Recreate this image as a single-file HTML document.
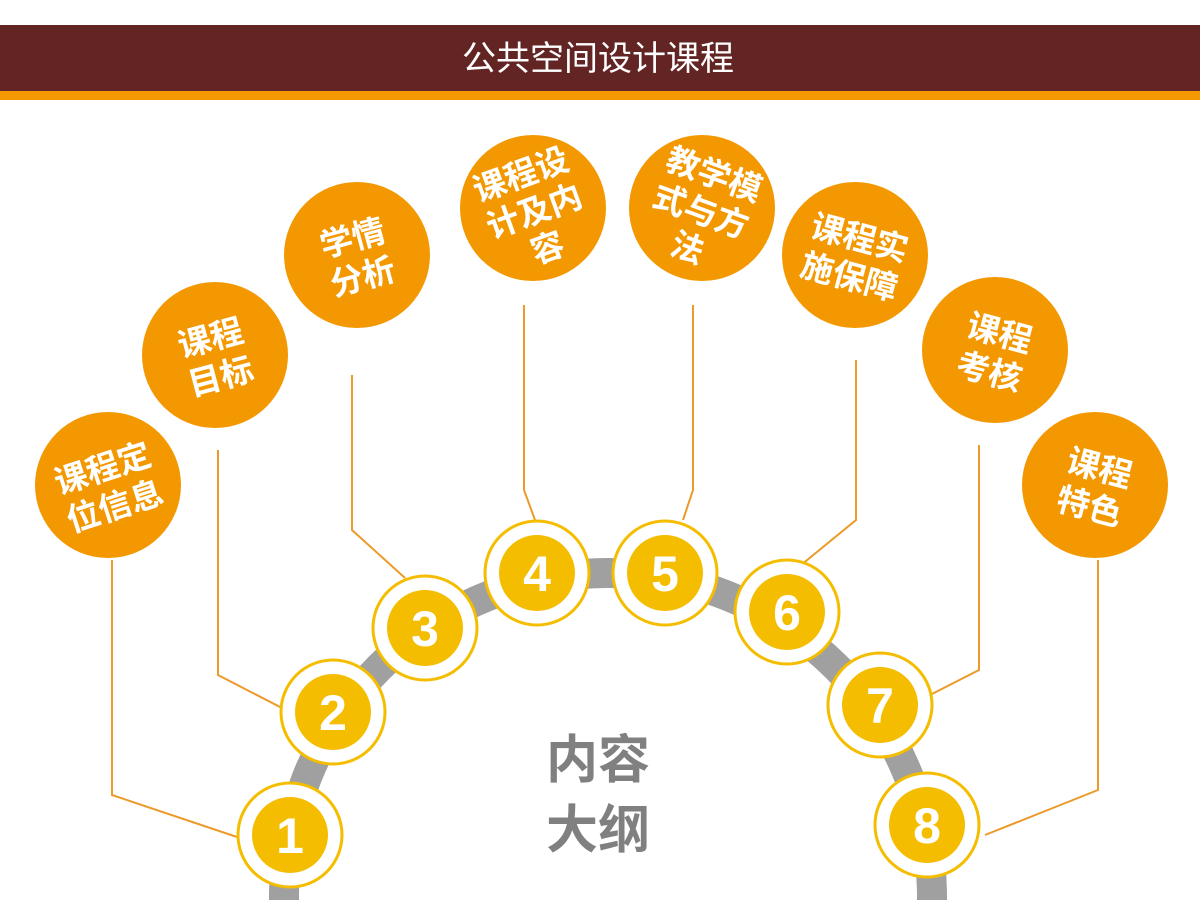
<!DOCTYPE html>
<html><head><meta charset="utf-8"><style>
html,body{margin:0;width:1200px;height:900px;overflow:hidden;background:#fff;}
svg{display:block;}
text{font-family:"Liberation Sans","Noto Sans CJK SC",sans-serif;}
</style></head><body>
<svg width="1200" height="900" xmlns="http://www.w3.org/2000/svg">
<rect x="0" y="25" width="1200" height="66" fill="#622524"/>
<rect x="0" y="91" width="1200" height="9" fill="#f39800"/>
<text x="598" y="70" font-size="34" fill="#fff" text-anchor="middle">公共空间设计课程</text>

<circle cx="608" cy="897" r="324" fill="none" stroke="#a0a0a0" stroke-width="30"/>

<g fill="none" stroke="#ec9a2a" stroke-width="2">
<polyline points="112,560 112,795 240,838"/>
<polyline points="218,450 218,675 282,708"/>
<polyline points="352,375 352,530 405,578"/>
<polyline points="524,305 524,490 535,520"/>
<polyline points="693,305 693,490 683,520"/>
<polyline points="856,360 856,520 795,570"/>
<polyline points="979,445 979,670 930,695"/>
<polyline points="1098,560 1098,790 985,835"/>
</g>

<g fill="#f39800">
<circle cx="108" cy="485" r="73"/>
<circle cx="215" cy="355" r="73"/>
<circle cx="357" cy="255" r="73"/>
<circle cx="533" cy="208" r="73"/>
<circle cx="702" cy="208" r="73"/>
<circle cx="855" cy="255" r="73"/>
<circle cx="995" cy="350" r="73"/>
<circle cx="1095" cy="485" r="73"/>
</g>
<g fill="#fff" font-size="33" font-weight="bold" text-anchor="middle">
<text transform="translate(108,485) rotate(-18)"><tspan x="0" y="-6">课程定</tspan><tspan x="0" y="34">位信息</tspan></text>
<text transform="translate(215,355) rotate(-15)"><tspan x="0" y="-6">课程</tspan><tspan x="0" y="34">目标</tspan></text>
<text transform="translate(357,255) rotate(-15)"><tspan x="0" y="-6">学情</tspan><tspan x="0" y="34">分析</tspan></text>
<text transform="translate(533,208) rotate(-20)"><tspan x="0" y="-24">课程设</tspan><tspan x="0" y="15">计及内</tspan><tspan x="0" y="54">容</tspan></text>
<text transform="translate(702,208) rotate(20)"><tspan x="0" y="-24">教学模</tspan><tspan x="0" y="15">式与方</tspan><tspan x="0" y="54">法</tspan></text>
<text transform="translate(855,255) rotate(15)"><tspan x="0" y="-6">课程实</tspan><tspan x="0" y="34">施保障</tspan></text>
<text transform="translate(995,350) rotate(15)"><tspan x="0" y="-6">课程</tspan><tspan x="0" y="34">考核</tspan></text>
<text transform="translate(1095,485) rotate(15)"><tspan x="0" y="-6">课程</tspan><tspan x="0" y="34">特色</tspan></text>
</g>

<g>
<g transform="translate(290,835)"><circle r="52" fill="#fff" stroke="#f5bd00" stroke-width="3"/><circle r="38" fill="#f5bd00"/></g>
<g transform="translate(333,712)"><circle r="52" fill="#fff" stroke="#f5bd00" stroke-width="3"/><circle r="38" fill="#f5bd00"/></g>
<g transform="translate(425,628)"><circle r="52" fill="#fff" stroke="#f5bd00" stroke-width="3"/><circle r="38" fill="#f5bd00"/></g>
<g transform="translate(537,573)"><circle r="52" fill="#fff" stroke="#f5bd00" stroke-width="3"/><circle r="38" fill="#f5bd00"/></g>
<g transform="translate(665,573)"><circle r="52" fill="#fff" stroke="#f5bd00" stroke-width="3"/><circle r="38" fill="#f5bd00"/></g>
<g transform="translate(787,612)"><circle r="52" fill="#fff" stroke="#f5bd00" stroke-width="3"/><circle r="38" fill="#f5bd00"/></g>
<g transform="translate(880,705)"><circle r="52" fill="#fff" stroke="#f5bd00" stroke-width="3"/><circle r="38" fill="#f5bd00"/></g>
<g transform="translate(927,825)"><circle r="52" fill="#fff" stroke="#f5bd00" stroke-width="3"/><circle r="38" fill="#f5bd00"/></g>
</g>
<g fill="#fff" font-size="50" font-weight="bold" text-anchor="middle">
<text x="290" y="853">1</text>
<text x="333" y="730">2</text>
<text x="425" y="646">3</text>
<text x="537" y="591">4</text>
<text x="665" y="591">5</text>
<text x="787" y="630">6</text>
<text x="880" y="723">7</text>
<text x="927" y="843">8</text>
</g>

<g fill="#808080" font-size="52" font-weight="bold" text-anchor="middle">
<text x="598" y="778">内容</text>
<text x="598" y="848">大纲</text>
</g>
</svg>
</body></html>
